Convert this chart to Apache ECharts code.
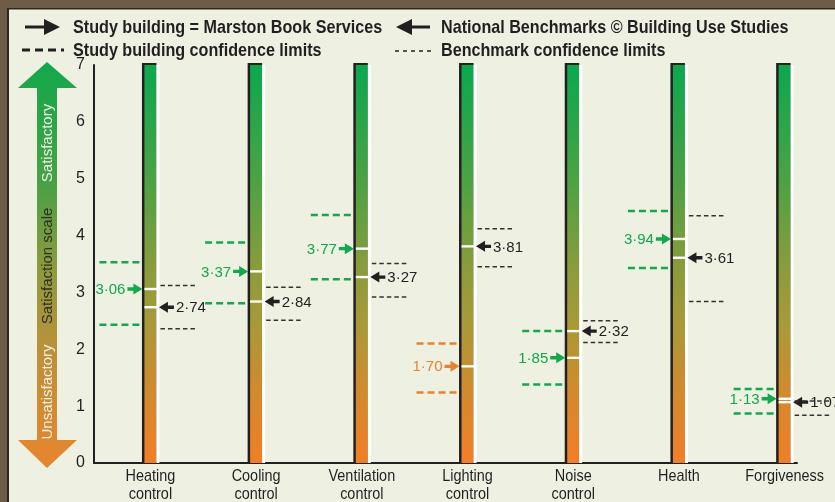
<!DOCTYPE html>
<html>
<head>
<meta charset="utf-8">
<title>Satisfaction scores</title>
<script src="https://cdn.jsdelivr.net/npm/echarts@6/dist/echarts.min.js"></script>
<style>
  html, body { margin: 0; padding: 0; background: #6d5c47; }
  #chart { width: 835px; height: 502px; }
</style>
</head>
<body>
<div id="chart"></div>
<script>
// values
const categories = ['Heating\ncontrol', 'Cooling\ncontrol', 'Ventilation\ncontrol', 'Lighting\ncontrol', 'Noise\ncontrol', 'Health', 'Forgiveness'];
const studyScore = [3.06, 3.37, 3.77, 1.70, 1.85, 3.94, 1.13];
const studyUpper = [3.53, 3.88, 4.36, 2.10, 2.32, 4.43, 1.30];
const studyLower = [2.43, 2.81, 3.23, 1.24, 1.38, 3.43, 0.87];
const benchScore = [2.74, 2.84, 3.27, 3.81, 2.32, 3.61, 1.07];
const benchUpper = [3.12, 3.09, 3.51, 4.12, 2.50, 4.35, 1.09];
const benchLower = [2.36, 2.51, 2.92, 3.45, 2.12, 2.84, 0.84];
const scaleMax = 7;

const GREEN = '#12a84c';
const ORANGE = '#e8822c';
const INK = '#231f20';
const numFont = '"Liberation Sans", Arial, sans-serif';
// no narrow font installed, so text gets squeezed with scaleX
const SQUEEZE = 0.85;

const fmt = v => v.toFixed(2).replace('.', '\u00b7');

const seriesData = categories.map((c, i) => [i, studyScore[i], studyLower[i], studyUpper[i], benchScore[i], benchLower[i], benchUpper[i]]);

// arrow pointing at (tx, y); dir = 1 points right, -1 points left
function arrow(tx, y, dir, color) {
    const p = (dx, dy) => [tx - dir * dx, y + dy];
    return {
        type: 'polygon',
        shape: { points: [p(15, -1.7), p(9, -1.7), p(9, -5.5), p(0, 0), p(9, 5.5), p(9, 1.7), p(15, 1.7)] },
        style: { fill: color }
    };
}

function renderItem(params, api) {
    const i = api.value(0);
    const top = api.coord([i, scaleMax]);
    const bot = api.coord([i, 0]);
    const cx = top[0] + 2;
    const h = bot[1] - top[1];
    const kids = [];

    // the bar itself: black left/top edge, gradient, white right edge
    kids.push({ type: 'rect', shape: { x: cx - 8.5, y: top[1] - 2, width: 14.5, height: h + 2 }, style: { fill: INK } });
    kids.push({
        type: 'rect', shape: { x: cx - 6, y: top[1], width: 12, height: h },
        style: {
            fill: new echarts.graphic.LinearGradient(0, 0, 0, 1, [
                { offset: 0, color: '#0aa84f' },
                { offset: 0.3, color: '#4ea244' },
                { offset: 0.5, color: '#889c3c' },
                { offset: 0.65, color: '#a89a38' },
                { offset: 0.82, color: '#d28a2e' },
                { offset: 1, color: '#f27e25' }
            ])
        }
    });
    kids.push({ type: 'rect', shape: { x: cx + 6, y: top[1], width: 3, height: h }, style: { fill: '#ffffff' } });

    // study building: left side
    const s = api.value(1);
    const worse = api.value(3) < api.value(4);
    const sc = worse ? ORANGE : GREEN;
    const sy = api.coord([i, s])[1];
    const tipL = cx - 8;
    kids.push({ type: 'rect', shape: { x: cx - 6, y: sy - 1.2, width: 15, height: 2.4 }, style: { fill: '#ffffff' } });
    kids.push(arrow(tipL, sy, 1, sc));
    kids.push({
        type: 'text', x: tipL - 17, y: sy + 1,
        style: { text: fmt(s), fill: sc, font: '15px ' + numFont, textAlign: 'right', textVerticalAlign: 'middle' }
    });
    [api.value(2), api.value(3)].forEach(v => {
        const y = api.coord([i, v])[1];
        kids.push({
            type: 'line', shape: { x1: cx - 51, y1: y, x2: cx - 9.5, y2: y },
            style: { stroke: sc, lineWidth: 2.5, lineDash: [7, 4] }
        });
    });

    // national benchmark: right side
    const b = api.value(4);
    const by = api.coord([i, b])[1];
    const tipR = cx + 8.5;
    kids.push({ type: 'rect', shape: { x: cx - 6, y: by - 1.2, width: 15, height: 2.4 }, style: { fill: '#ffffff' } });
    kids.push(arrow(tipR, by, -1, INK));
    kids.push({
        type: 'text', x: tipR + 17, y: by + 1,
        style: { text: fmt(b), fill: INK, font: '15px ' + numFont, textAlign: 'left', textVerticalAlign: 'middle' }
    });
    [api.value(5), api.value(6)].forEach(v => {
        const y = api.coord([i, v])[1];
        kids.push({
            type: 'line', shape: { x1: cx + 10, y1: y, x2: cx + 46, y2: y },
            style: { stroke: '#333333', lineWidth: 1.5, lineDash: [4.5, 3] }
        });
    });

    // category name under the axis
    kids.push({
        type: 'text', x: cx, y: bot[1] + 4, scaleX: SQUEEZE,
        style: { text: categories[i], fill: INK, font: '17px ' + numFont, textAlign: 'center', textVerticalAlign: 'top', lineHeight: 18 }
    });

    return { type: 'group', children: kids };
}

const scaleArrowFill = new echarts.graphic.LinearGradient(0, 0, 0, 1, [
    { offset: 0, color: '#12a84c' },
    { offset: 0.3, color: '#4aa046' },
    { offset: 0.5, color: '#8a9a3e' },
    { offset: 0.7, color: '#b8923a' },
    { offset: 1, color: '#e8852e' }
]);

function legendText(x, y, text) {
    return {
        type: 'text', x: x, y: y, scaleX: SQUEEZE,
        style: { text: text, fill: INK, font: 'bold 19px ' + numFont, textVerticalAlign: 'middle' }
    };
}

var myChart = echarts.init(document.getElementById('chart'));
myChart.setOption({
    backgroundColor: '#eef0e2',
    animation: false,
    grid: { left: 94, right: 38, top: 65, bottom: 39 },
    xAxis: {
        type: 'value',
        min: -0.515,
        max: 6.136,
        axisLine: { show: true, lineStyle: { color: INK, width: 2 } },
        axisTick: { show: false },
        axisLabel: { show: false },
        splitLine: { show: false }
    },
    yAxis: {
        type: 'value',
        min: 0,
        max: scaleMax,
        interval: 1,
        axisLine: { show: true, onZero: false, lineStyle: { color: INK, width: 2 } },
        axisTick: { show: false },
        axisLabel: { color: INK, fontSize: 16, fontFamily: numFont, margin: 9 },
        splitLine: { show: false }
    },
    graphic: [
        // frame
        { type: 'rect', z: 100, shape: { x: 0, y: 0, width: 835, height: 8 }, style: { fill: '#6d5c47' } },
        { type: 'rect', z: 100, shape: { x: 0, y: 0, width: 7, height: 502 }, style: { fill: '#6d5c47' } },
        { type: 'rect', z: 100, shape: { x: 7, y: 8, width: 828, height: 1.5 }, style: { fill: '#2e2620' } },
        { type: 'rect', z: 100, shape: { x: 7, y: 8, width: 2, height: 494 }, style: { fill: '#2e2620' } },
        // legend
        { type: 'polygon', shape: { points: [[25, 25.5], [44, 25.5], [44, 19], [60, 27], [44, 35], [44, 28.5], [25, 28.5]] }, style: { fill: INK } },
        legendText(73, 28, 'Study building = Marston Book Services'),
        { type: 'polygon', shape: { points: [[430, 25.5], [412, 25.5], [412, 19], [396, 27], [412, 35], [412, 28.5], [430, 28.5]] }, style: { fill: INK } },
        legendText(441, 28, 'National Benchmarks \u00a9 Building Use Studies'),
        { type: 'line', shape: { x1: 22, y1: 50, x2: 64, y2: 50 }, style: { stroke: INK, lineWidth: 3, lineDash: [8, 5] } },
        legendText(73, 51, 'Study building confidence limits'),
        { type: 'line', shape: { x1: 395, y1: 51, x2: 431, y2: 51 }, style: { stroke: INK, lineWidth: 1.5, lineDash: [4, 4] } },
        legendText(441, 51, 'Benchmark confidence limits'),
        // satisfaction scale arrow
        {
            type: 'polygon',
            shape: { points: [[47, 62], [77, 88], [57, 88], [57, 440], [77, 440], [47, 468], [18, 440], [37, 440], [37, 88], [18, 88]] },
            style: { fill: scaleArrowFill }
        },
        { type: 'text', x: 48, y: 143, rotation: Math.PI / 2, style: { text: 'Satisfactory', fill: '#eef5e4', font: '15px ' + numFont, textAlign: 'center', textVerticalAlign: 'middle' } },
        { type: 'text', x: 48, y: 266, rotation: Math.PI / 2, style: { text: 'Satisfaction scale', fill: '#2f2f22', font: '15px ' + numFont, textAlign: 'center', textVerticalAlign: 'middle' } },
        { type: 'text', x: 48, y: 392, rotation: Math.PI / 2, style: { text: 'Unsatisfactory', fill: '#f6efe2', font: '15px ' + numFont, textAlign: 'center', textVerticalAlign: 'middle' } }
    ],
    series: [
        {
            type: 'custom',
            renderItem: renderItem,
            data: seriesData,
            encode: { x: 0, y: [1, 4] },
            silent: true
        }
    ]
});
</script>
</body>
</html>
